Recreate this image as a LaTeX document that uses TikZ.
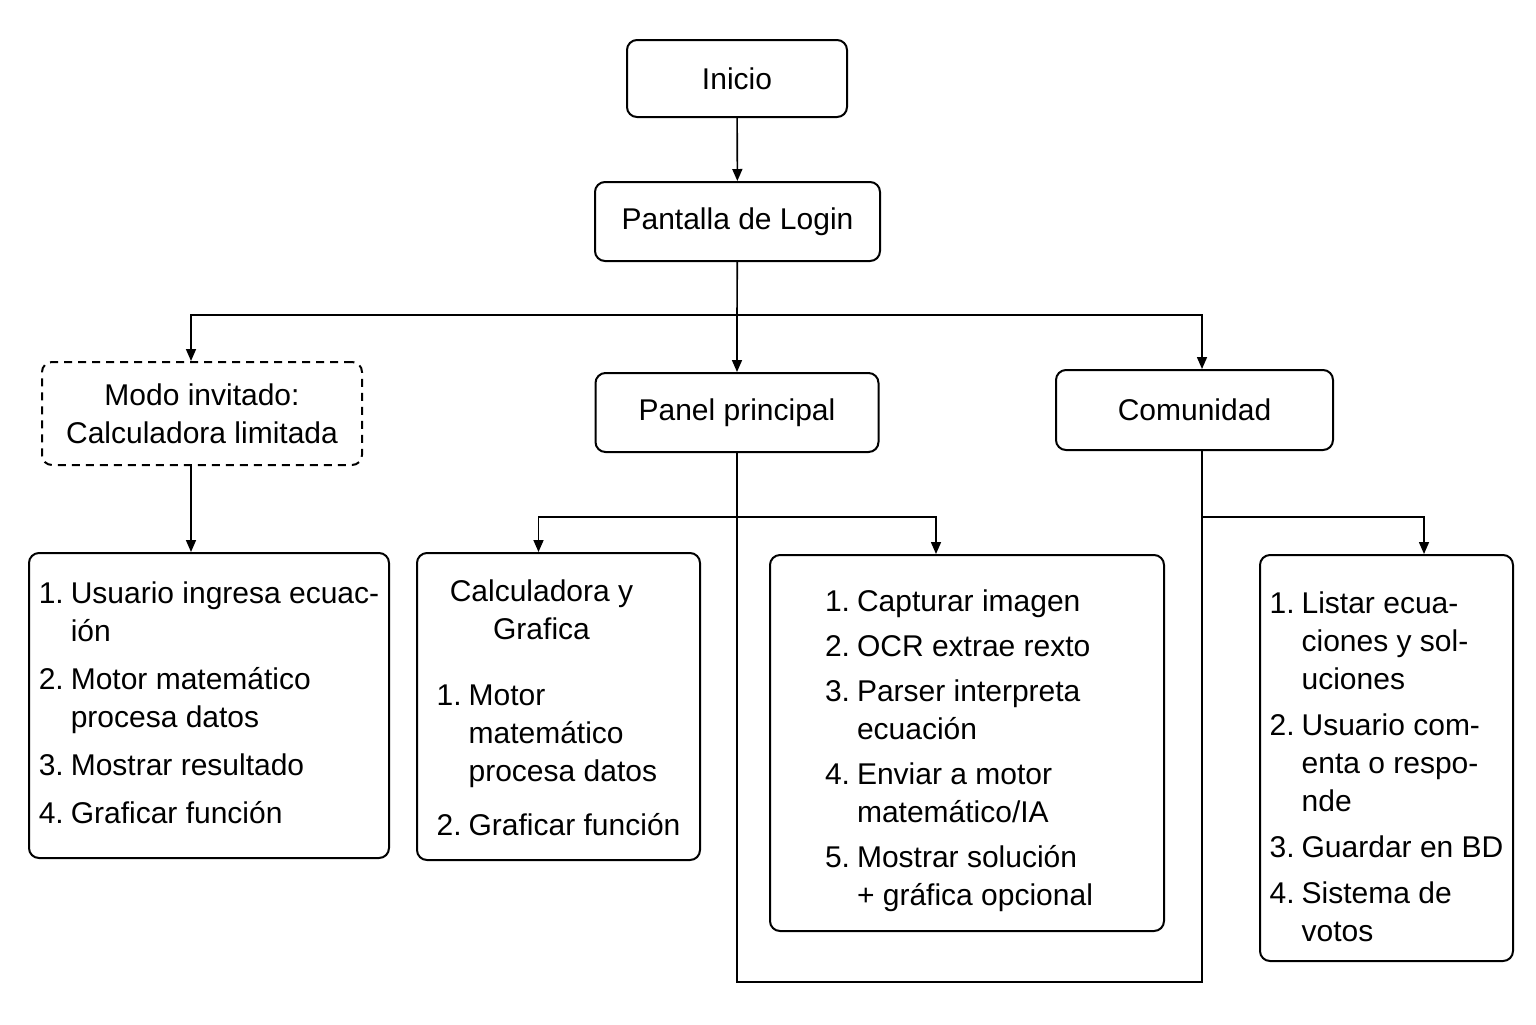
\documentclass[tikz,border=0pt]{standalone}
\usepackage{fontspec}
\setmainfont{Liberation Sans}
\usetikzlibrary{arrows.meta}

\begin{document}
\begin{tikzpicture}[x=0.5pt,y=-0.5pt,>={Triangle[length=6pt,width=5pt]}]

        \tikzstyle{every node}=[draw,rectangle,rounded corners=5pt,line width=1pt,align=center,inner sep=0pt,font=\fontsize{15}{19}\selectfont]
        \tikzstyle{conn}=[line width=0.8pt]

        \useasboundingbox (0,0) rectangle (1536,1024);

        \node[minimum width=110pt, minimum height=38.5pt] (inicio) at (737,78.5) {Inicio};
        \node[minimum width=142.5pt, minimum height=39.5pt] (login) at (737.5,221.5) {Pantalla de Login};

        \node[minimum width=160pt, minimum height=51.5pt, dash pattern=on 4pt off 3pt] (invitado) at (202,413.5) {Modo invitado:\\ Calculadora limitada};
        \node[minimum width=141.5pt, minimum height=39.5pt] (panel) at (737,412.5) {Panel principal};
        \node[minimum width=138.5pt, minimum height=40pt] (comunidad) at (1194.5,410) {Comunidad};

        % listas de pasos
        \node[minimum width=180pt, minimum height=152.5pt] (lista_inv) at (209,705.5) {%
            \begin{tabular}{@{}l@{\hspace{3.5pt}}l@{}}
            1. & Usuario ingresa ecuac-\\ & ión\\[5pt]
            2. & Motor matemático\\ & procesa datos\\[5pt]
            3. & Mostrar resultado\\[5pt]
            4. & Graficar función
            \end{tabular}};
        \node[minimum width=141.5pt, minimum height=153.5pt] (lista_calc) at (558.5,706.5) {%
            \raisebox{-2pt}[\height][\depth]{\begin{tabular}{@{}l@{\hspace{3.5pt}}l@{}}
            \multicolumn{2}{@{}c@{\hspace{17pt}}}{Calculadora y}\\
            \multicolumn{2}{@{}c@{\hspace{17pt}}}{Grafica}\\[14pt]
            1. & Motor\\ & matemático\\ & procesa datos\\[8pt]
            2. & Graficar función
            \end{tabular}}};
        \node[minimum width=197pt, minimum height=188pt] (lista_ocr) at (967,743) {%
            \raisebox{-4pt}[\height][\depth]{\begin{tabular}{@{}l@{\hspace{3.5pt}}l@{}}
            1. & Capturar imagen\\[3.5pt]
            2. & OCR extrae rexto\\[3.5pt]
            3. & Parser interpreta\\ & ecuación\\[3.5pt]
            4. & Enviar a motor\\ & matemático/IA\\[3.5pt]
            5. & Mostrar solución\\ & + gráfica opcional
            \end{tabular}}\hspace{8pt}};
        \node[minimum width=126.5pt, minimum height=203pt] (lista_com) at (1386.5,758) {%
            \raisebox{-6pt}[\height][\depth]{\begin{tabular}{@{}l@{\hspace{3.5pt}}l@{}}
            1. & Listar ecua-\\ & ciones y sol-\\ & uciones\\[4pt]
            2. & Usuario com-\\ & enta o respo-\\ & nde\\[4pt]
            3. & Guardar en BD\\[4pt]
            4. & Sistema de\\ & votos
            \end{tabular}}};

        \coordinate (split) at (737,315);
        \coordinate (psplit) at (737,517);
        \coordinate (csplit) at (1202,517);
        \coordinate (base) at (970,982);

        \draw[conn,->] (inicio) -- (login);
        \draw[conn] (login) -- (split);
        \foreach \n / \s in {invitado/-5.5pt, panel/0pt, comunidad/3.75pt} {
            \draw[conn,->] (split) -| ([xshift=\s]\n.north);
        }

        \draw[conn,->] ([xshift=-5.5pt]invitado.south) -- ([xshift=-5.5pt]invitado.south |- lista_inv.north);

        \draw[conn] (panel.south) |- (base) -| ([xshift=3.75pt]comunidad.south);
        \draw[conn,->] (psplit) -| ([xshift=-10pt]lista_calc.north);
        \draw[conn,->] (psplit) -| ([xshift=-15.5pt]lista_ocr.north);
        \draw[conn,->] (csplit) -| ([xshift=18.75pt]lista_com.north);

    \end{tikzpicture}
\end{document}
